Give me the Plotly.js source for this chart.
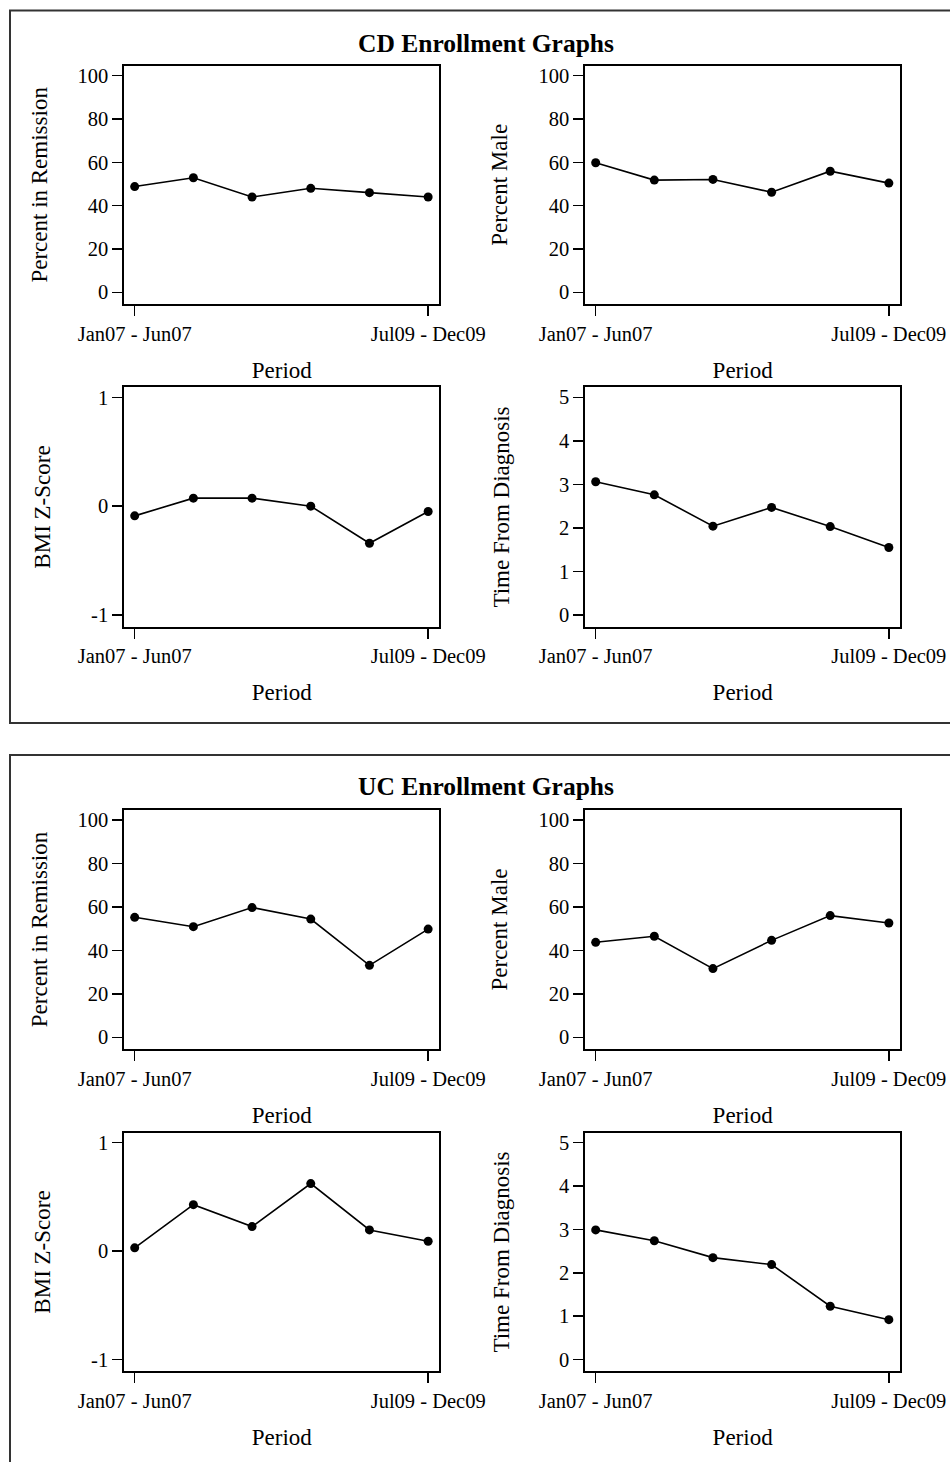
<!DOCTYPE html>
<html>
<head>
<meta charset="utf-8">
<script src="https://cdn.plot.ly/plotly-3.0.1.min.js"></script>
<style>
  html, body { margin: 0; padding: 0; background: #fff; }
  #chart { width: 950px; height: 1462px; }
</style>
</head>
<body>
<div id="chart"></div>
<script>
// ---- Data ----
const periodIndex = [0, 1, 2, 3, 4, 5];
const tickPositions = [0, 5];
const tickLabels = ['Jan07 - Jun07', 'Jul09 - Dec09'];

const cdRemission = [48.8, 52.9, 44.0, 48.0, 46.0, 44.0];
const cdMale = [59.8, 51.8, 52.1, 46.2, 55.9, 50.4];
const cdBmi = [-0.089, 0.074, 0.074, 0.0, -0.34, -0.049];
const cdTime = [3.06, 2.76, 2.04, 2.47, 2.03, 1.55];

const ucRemission = [55.2, 50.9, 59.7, 54.4, 33.1, 49.8];
const ucMale = [43.7, 46.5, 31.6, 44.6, 56.0, 52.6];
const ucBmi = [0.031, 0.429, 0.227, 0.623, 0.196, 0.092];
const ucTime = [2.99, 2.74, 2.35, 2.19, 1.23, 0.92];

const panelTitles = ['CD Enrollment Graphs', 'UC Enrollment Graphs'];
const yTitles = ['Percent in Remission', 'Percent Male', 'BMI Z-Score', 'Time From Diagnosis'];
const xTitle = 'Period';

const pctTickVals = [0, 20, 40, 60, 80, 100];
const pctTickText = ['0', '20', '40', '60', '80', '100'];
const bmiTickVals = [-1, 0, 1];
const bmiTickText = ['-1', '0', '1'];
const timeTickVals = [0, 1, 2, 3, 4, 5];
const timeTickText = ['0', '1', '2', '3', '4', '5'];

// ---- Layout geometry ----
const W = 950, H = 1462;
const FONT = 'Liberation Serif, Times New Roman, serif';
const px2x = p => p / W;
const py2y = p => 1 - p / H;

const colX = [[124.3, 439.3], [585.3, 900]];
const rowY = [[65.7, 304], [387.3, 626.7], [810, 1049], [1132.7, 1371.3]];

const series = [
  [cdRemission, cdMale],
  [cdBmi, cdTime],
  [ucRemission, ucMale],
  [ucBmi, ucTime]
];
const yRanges = [
  [[-5.4, 104.6], [-5.4, 104.6]],
  [[-1.107, 1.092], [-0.27, 5.23]],
  [[-5.4, 104.6], [-5.4, 104.6]],
  [[-1.107, 1.092], [-0.27, 5.23]]
];
const yTickSets = [
  [[pctTickVals, pctTickText], [pctTickVals, pctTickText]],
  [[bmiTickVals, bmiTickText], [timeTickVals, timeTickText]],
  [[pctTickVals, pctTickText], [pctTickVals, pctTickText]],
  [[bmiTickVals, bmiTickText], [timeTickVals, timeTickText]]
];
const yTitleIdx = [[0, 1], [2, 3], [0, 1], [2, 3]];
const yStandoff = [[23, 24], [34, 43], [23, 24], [34, 43]];

const traces = [];
const layout = {
  width: W, height: H,
  margin: {l: 0, r: 0, t: 0, b: 0},
  paper_bgcolor: '#fff', plot_bgcolor: '#fff',
  showlegend: false,
  font: {family: FONT, color: '#000', size: 20.5},
  annotations: [],
  shapes: []
};

let n = 0;
for (let r = 0; r < 4; r++) {
  for (let c = 0; c < 2; c++) {
    n++;
    const xa = 'xaxis' + (n === 1 ? '' : n);
    const ya = 'yaxis' + (n === 1 ? '' : n);
    const xr = 'x' + (n === 1 ? '' : n);
    const yr = 'y' + (n === 1 ? '' : n);
    traces.push({
      x: periodIndex, y: series[r][c],
      xaxis: xr, yaxis: yr,
      type: 'scatter', mode: 'lines+markers',
      line: {color: '#000', width: 1.6},
      marker: {color: '#000', size: 9},
      hoverinfo: 'skip'
    });
    layout[xa] = {
      domain: [px2x(colX[c][0]), px2x(colX[c][1])],
      anchor: yr,
      range: [-0.177, 5.19],
      tickmode: 'array', tickvals: tickPositions, ticktext: tickLabels,
      ticks: 'outside', ticklen: 10, tickwidth: 1.5, tickcolor: '#000',
      showline: true, linecolor: '#000', linewidth: 2, mirror: true,
      showgrid: false, zeroline: false,
      tickfont: {family: FONT, size: 20.5, color: '#000'},
      title: {text: xTitle, font: {family: FONT, size: 23, color: '#000'}, standoff: 18},
      fixedrange: true
    };
    layout[ya] = {
      domain: [py2y(rowY[r][1]), py2y(rowY[r][0])],
      anchor: xr,
      range: yRanges[r][c],
      tickmode: 'array', tickvals: yTickSets[r][c][0], ticktext: yTickSets[r][c][1],
      ticks: 'outside', ticklen: 10, tickwidth: 1.5, tickcolor: '#000',
      showline: true, linecolor: '#000', linewidth: 2, mirror: true,
      showgrid: false, zeroline: false,
      tickfont: {family: FONT, size: 20.5, color: '#000'},
      title: {text: yTitles[yTitleIdx[r][c]], font: {family: FONT, size: 23, color: '#000'}, standoff: yStandoff[r][c]},
      fixedrange: true
    };
  }
}

// Panel titles
const titleY = [43, 786];
for (let i = 0; i < 2; i++) {
  layout.annotations.push({
    text: '<b>' + panelTitles[i] + '</b>',
    xref: 'paper', yref: 'paper',
    x: px2x(486), y: py2y(titleY[i]),
    xanchor: 'center', yanchor: 'middle',
    showarrow: false,
    font: {family: FONT, size: 25.5, color: '#000'}
  });
}

// Outer frames
layout.shapes.push({
  type: 'rect', xref: 'paper', yref: 'paper',
  x0: px2x(10), x1: px2x(960), y0: py2y(723), y1: py2y(10.5),
  line: {color: '#333', width: 2}, fillcolor: 'rgba(0,0,0,0)', layer: 'below'
});
layout.shapes.push({
  type: 'rect', xref: 'paper', yref: 'paper',
  x0: px2x(10), x1: px2x(960), y0: py2y(1480), y1: py2y(755),
  line: {color: '#333', width: 2}, fillcolor: 'rgba(0,0,0,0)', layer: 'below'
});

Plotly.newPlot('chart', traces, layout, {staticPlot: true, displayModeBar: false});
</script>
</body>
</html>
